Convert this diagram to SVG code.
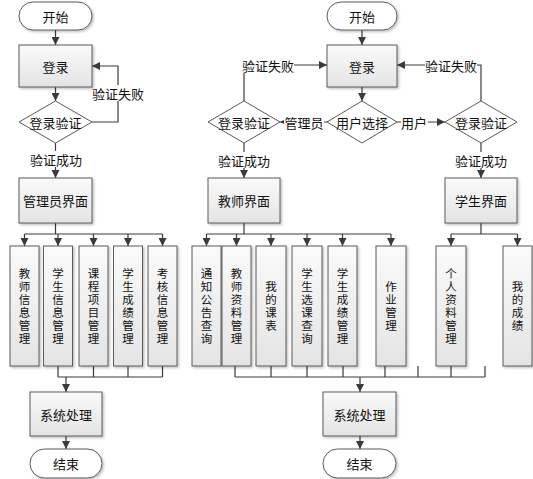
<svg xmlns="http://www.w3.org/2000/svg" width="533" height="479" viewBox="0 0 533 479">
<defs>
  <linearGradient id="g" x1="0" y1="0" x2="0" y2="1">
    <stop offset="0" stop-color="#fafafa"/>
    <stop offset="1" stop-color="#e4e4e4"/>
  </linearGradient>
  <filter id="sh" x="-20%" y="-20%" width="140%" height="140%">
    <feDropShadow dx="1.5" dy="1.5" stdDeviation="1" flood-color="#000" flood-opacity="0.25"/>
  </filter>
  <marker id="ar" markerUnits="userSpaceOnUse" markerWidth="8" markerHeight="8" refX="8" refY="4" orient="auto">
    <path d="M0,0 L8,4 L0,8 z" fill="#3a3a3a"/>
  </marker>
</defs>
<style>
  .box{fill:url(#g);stroke:#5a5a5a;stroke-width:1;filter:url(#sh)}
  .term{fill:#fff;stroke:#5a5a5a;stroke-width:1;filter:url(#sh)}
  .dia{fill:#fff;stroke:#5a5a5a;stroke-width:1}
  .ln{fill:none;stroke:#3a3a3a;stroke-width:1.2}
  .arw{fill:none;stroke:#3a3a3a;stroke-width:1.2;marker-end:url(#ar)}
  text{font-family:"Noto Sans CJK SC","Liberation Sans",sans-serif;font-size:13px;fill:#111;text-anchor:middle;dominant-baseline:central}
  text.v{font-family:"Liberation Sans","Noto Sans CJK SC",sans-serif;font-size:11.5px}
  .bg{fill:#fff}
</style>

<g id="connectors">
  <path class="arw" d="M55.5,30 V45"/>
  <path class="arw" d="M55.5,87 V101"/>
  <path class="arw" d="M92,122 H118 V66 H92"/>
  <path class="arw" d="M55.5,143 V178"/>
  <path class="ln" d="M55.5,223 V234 M24.5,234 H162.5"/>
  <path class="arw" d="M24.5,234 V246"/>
  <path class="arw" d="M58,234 V246"/>
  <path class="arw" d="M93.5,234 V246"/>
  <path class="arw" d="M128,234 V246"/>
  <path class="arw" d="M162.5,234 V246"/>
  <path class="ln" d="M58,366 V377 M93.5,366 V377 M128,366 V377 M162.5,366 V377 M58,377 H162.5"/>
  <path class="arw" d="M66,377 V392"/>
  <path class="arw" d="M66,436 V449"/>
  <path class="arw" d="M362,30 V45"/>
  <path class="arw" d="M362,87 V101"/>
  <path class="arw" d="M327,122 H280"/>
  <path class="arw" d="M397,122 H445"/>
  <path class="arw" d="M244,101 V65 H327"/>
  <path class="arw" d="M481,101 V65 H397"/>
  <path class="arw" d="M244,143 V178"/>
  <path class="arw" d="M481,143 V178"/>
  <path class="ln" d="M244,223 V234 M206.5,234 H391"/>
  <path class="arw" d="M206.5,234 V246"/>
  <path class="arw" d="M236.5,234 V246"/>
  <path class="arw" d="M271,234 V246"/>
  <path class="arw" d="M307,234 V246"/>
  <path class="arw" d="M342.5,234 V246"/>
  <path class="arw" d="M391,234 V246"/>
  <path class="ln" d="M481,223 V234 M451,234 H517.5"/>
  <path class="arw" d="M451,234 V246"/>
  <path class="arw" d="M517.5,234 V246"/>
  <path class="ln" d="M235,366 V377 M271,366 V377 M307,366 V377 M343,366 V377 M385,366 V377 M418,366 V377 M451,366 V377 M485,366 V377 M235,377 H485"/>
  <path class="arw" d="M360,377 V392"/>
  <path class="arw" d="M360,436 V449"/>
  <rect class="bg" x="92" y="85" width="52" height="16"/>
  <text x="118" y="93">验证失败</text>
  <rect class="bg" x="30" y="151" width="52" height="16"/>
  <text x="56" y="159">验证成功</text>
  <rect class="bg" x="242" y="57" width="52" height="16"/>
  <text x="268" y="65">验证失败</text>
  <rect class="bg" x="425" y="57" width="52" height="16"/>
  <text x="451" y="65">验证失败</text>
  <rect class="bg" x="218" y="152" width="52" height="16"/>
  <text x="244" y="160">验证成功</text>
  <rect class="bg" x="455" y="152" width="52" height="16"/>
  <text x="481" y="160">验证成功</text>
  <rect class="bg" x="284" y="114" width="40" height="16"/>
  <text x="304" y="122">管理员</text>
  <rect class="bg" x="401" y="114" width="27" height="16"/>
  <text x="414" y="122">用户</text>
</g>

<g id="start1"><rect class="term" x="19" y="2" width="73" height="28" rx="14"/><text x="55.5" y="16">开始</text></g>
<g id="login1"><rect class="box" x="19" y="45" width="73" height="42"/><text x="55.5" y="66">登录</text></g>
<g id="verify1"><polygon class="dia" points="55.5,101 92,122 55.5,143 19,122"/><text x="55.5" y="122">登录验证</text></g>
<g id="admin"><rect class="box" x="19" y="178" width="73" height="45"/><text x="55.5" y="200.5">管理员界面</text></g>

<g id="a1"><rect class="box" x="10" y="246" width="29" height="120"/><text class="v" x="24.5" y="273.5"><tspan x="24.5">教</tspan><tspan x="24.5" dy="13">师</tspan><tspan x="24.5" dy="13">信</tspan><tspan x="24.5" dy="13">息</tspan><tspan x="24.5" dy="13">管</tspan><tspan x="24.5" dy="13">理</tspan></text></g>
<g id="a2"><rect class="box" x="43.5" y="246" width="29" height="120"/><text class="v" x="58" y="273.5"><tspan x="58">学</tspan><tspan x="58" dy="13">生</tspan><tspan x="58" dy="13">信</tspan><tspan x="58" dy="13">息</tspan><tspan x="58" dy="13">管</tspan><tspan x="58" dy="13">理</tspan></text></g>
<g id="a3"><rect class="box" x="79" y="246" width="29" height="120"/><text class="v" x="93.5" y="273.5"><tspan x="93.5">课</tspan><tspan x="93.5" dy="13">程</tspan><tspan x="93.5" dy="13">项</tspan><tspan x="93.5" dy="13">目</tspan><tspan x="93.5" dy="13">管</tspan><tspan x="93.5" dy="13">理</tspan></text></g>
<g id="a4"><rect class="box" x="113.5" y="246" width="29" height="120"/><text class="v" x="128" y="273.5"><tspan x="128">学</tspan><tspan x="128" dy="13">生</tspan><tspan x="128" dy="13">成</tspan><tspan x="128" dy="13">绩</tspan><tspan x="128" dy="13">管</tspan><tspan x="128" dy="13">理</tspan></text></g>
<g id="a5"><rect class="box" x="148" y="246" width="29" height="120"/><text class="v" x="162.5" y="273.5"><tspan x="162.5">考</tspan><tspan x="162.5" dy="13">核</tspan><tspan x="162.5" dy="13">信</tspan><tspan x="162.5" dy="13">息</tspan><tspan x="162.5" dy="13">管</tspan><tspan x="162.5" dy="13">理</tspan></text></g>

<g id="sys1"><rect class="box" x="30" y="392" width="72" height="44"/><text x="66" y="414">系统处理</text></g>
<g id="end1"><rect class="term" x="30" y="449" width="72" height="29" rx="14.5"/><text x="66" y="463.5">结束</text></g>

<g id="start2"><rect class="term" x="327" y="2" width="70" height="28" rx="14"/><text x="362" y="16">开始</text></g>
<g id="login2"><rect class="box" x="327" y="45" width="70" height="42"/><text x="362" y="66">登录</text></g>
<g id="choose"><polygon class="dia" points="362,101 397,122 362,143 327,122"/><text x="362" y="122">用户选择</text></g>
<g id="verify2"><polygon class="dia" points="244,101 280,122 244,143 208,122"/><text x="244" y="122">登录验证</text></g>
<g id="verify3"><polygon class="dia" points="481,101 517,122 481,143 445,122"/><text x="481" y="122">登录验证</text></g>
<g id="teacher"><rect class="box" x="208" y="178" width="72" height="45"/><text x="244" y="200.5">教师界面</text></g>
<g id="student"><rect class="box" x="445" y="178" width="72" height="45"/><text x="481" y="200.5">学生界面</text></g>

<g id="t1"><rect class="box" x="192" y="246" width="29" height="120"/><text class="v" x="206.5" y="273.5"><tspan x="206.5">通</tspan><tspan x="206.5" dy="13">知</tspan><tspan x="206.5" dy="13">公</tspan><tspan x="206.5" dy="13">告</tspan><tspan x="206.5" dy="13">查</tspan><tspan x="206.5" dy="13">询</tspan></text></g>
<g id="t2"><rect class="box" x="222" y="246" width="29" height="120"/><text class="v" x="236.5" y="273.5"><tspan x="236.5">教</tspan><tspan x="236.5" dy="13">师</tspan><tspan x="236.5" dy="13">资</tspan><tspan x="236.5" dy="13">料</tspan><tspan x="236.5" dy="13">管</tspan><tspan x="236.5" dy="13">理</tspan></text></g>
<g id="t3"><rect class="box" x="256" y="246" width="30" height="120"/><text class="v" x="271" y="286.5"><tspan x="271">我</tspan><tspan x="271" dy="13">的</tspan><tspan x="271" dy="13">课</tspan><tspan x="271" dy="13">表</tspan></text></g>
<g id="t4"><rect class="box" x="292" y="246" width="30" height="120"/><text class="v" x="307" y="273.5"><tspan x="307">学</tspan><tspan x="307" dy="13">生</tspan><tspan x="307" dy="13">选</tspan><tspan x="307" dy="13">课</tspan><tspan x="307" dy="13">查</tspan><tspan x="307" dy="13">询</tspan></text></g>
<g id="t5"><rect class="box" x="328" y="246" width="29" height="120"/><text class="v" x="342.5" y="273.5"><tspan x="342.5">学</tspan><tspan x="342.5" dy="13">生</tspan><tspan x="342.5" dy="13">成</tspan><tspan x="342.5" dy="13">绩</tspan><tspan x="342.5" dy="13">管</tspan><tspan x="342.5" dy="13">理</tspan></text></g>
<g id="t6"><rect class="box" x="376" y="246" width="30" height="120"/><text class="v" x="391" y="286.5"><tspan x="391">作</tspan><tspan x="391" dy="13">业</tspan><tspan x="391" dy="13">管</tspan><tspan x="391" dy="13">理</tspan></text></g>
<g id="s1"><rect class="box" x="436" y="246" width="30" height="120"/><text class="v" x="451" y="273.5"><tspan x="451">个</tspan><tspan x="451" dy="13">人</tspan><tspan x="451" dy="13">资</tspan><tspan x="451" dy="13">料</tspan><tspan x="451" dy="13">管</tspan><tspan x="451" dy="13">理</tspan></text></g>
<g id="s2"><rect class="box" x="503" y="246" width="29" height="120"/><text class="v" x="517.5" y="286.5"><tspan x="517.5">我</tspan><tspan x="517.5" dy="13">的</tspan><tspan x="517.5" dy="13">成</tspan><tspan x="517.5" dy="13">绩</tspan></text></g>

<g id="sys2"><rect class="box" x="323" y="392" width="73" height="44"/><text x="359.5" y="414">系统处理</text></g>
<g id="end2"><rect class="term" x="323" y="449" width="73" height="29" rx="14.5"/><text x="359.5" y="463.5">结束</text></g>
</svg>
